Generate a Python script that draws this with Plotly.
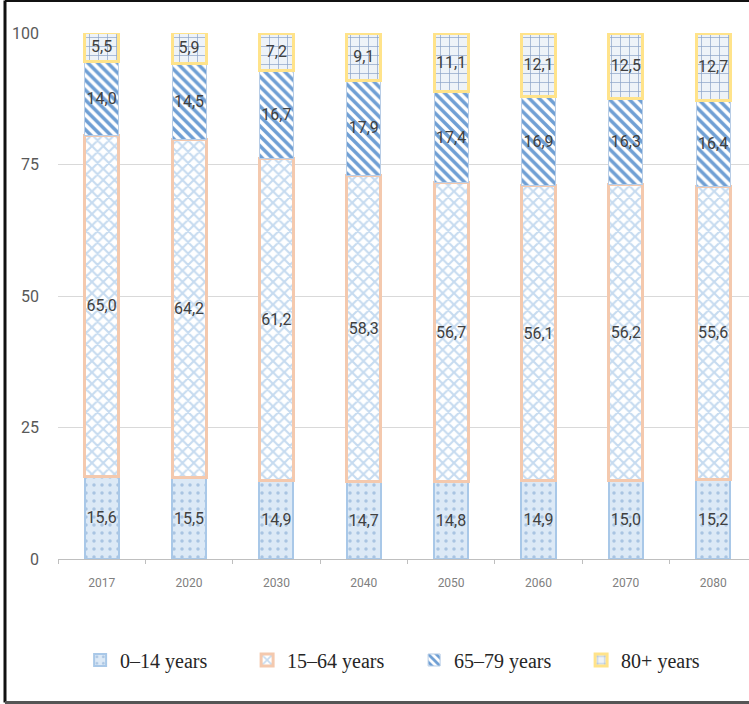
import plotly.graph_objects as go

# Population structure by age group, per cent of total
years = ["2017", "2020", "2030", "2040", "2050", "2060", "2070", "2080"]
age_0_14 = [15.6, 15.5, 14.9, 14.7, 14.8, 14.9, 15.0, 15.2]
age_15_64 = [65.0, 64.2, 61.2, 58.3, 56.7, 56.1, 56.2, 55.6]
age_65_79 = [14.0, 14.5, 16.7, 17.9, 17.4, 16.9, 16.3, 16.4]
age_80_plus = [5.5, 5.9, 7.2, 9.1, 11.1, 12.1, 12.5, 12.7]
series_names = ["0–14 years", "15–64 years", "65–79 years", "80+ years"]
y_ticks = [0, 25, 50, 75, 100]

SANS = "Roboto, Liberation Sans, sans-serif"


def comma(v):
    return f"{v:.1f}".replace(".", ",")


styles = [
    dict(pattern=dict(shape=".", bgcolor="#dce9f6", fgcolor="#a9c4e2", size=8, solidity=0.15, fillmode="replace"),
         line=dict(color="#a9c8e8", width=2)),
    dict(pattern=dict(shape="x", bgcolor="#ffffff", fgcolor="#c6dbf0", size=8, solidity=0.45, fillmode="replace"),
         line=dict(color="#f4c9ae", width=3)),
    dict(pattern=dict(shape="\\", bgcolor="#ffffff", fgcolor="#6f9fd4", size=7, solidity=0.5, fillmode="replace"),
         line=dict(color="#b8cde6", width=1)),
    dict(pattern=dict(shape="+", bgcolor="#eef3f8", fgcolor="#8ba3c7", size=9, solidity=0.15, fillmode="replace"),
         line=dict(color="#ffe38a", width=3)),
]

fig = go.Figure()
for name, vals, st in zip(series_names, [age_0_14, age_15_64, age_65_79, age_80_plus], styles):
    fig.add_trace(go.Bar(
        x=years, y=vals, name=name,
        marker=dict(color=st["pattern"]["bgcolor"], pattern=st["pattern"], line=st["line"]),
        text=[comma(v) for v in vals],
        textposition="inside", insidetextanchor="middle", textangle=0, constraintext="none",
        textfont=dict(family=SANS, size=16, color="#404040"),
        hoverinfo="skip",
    ))

# Outer frame of the figure (left, top, bottom edges)
frame = [
    dict(x0=-0.0767, x1=-0.0767, y0=-0.2728, y1=1.062, color="#111111", width=3),
    dict(x0=-0.0767, x1=1.0, y0=1.062, y1=1.062, color="#111111", width=3),
    dict(x0=-0.0767, x1=1.0, y0=-0.2728, y1=-0.2728, color="#555555", width=3),
]
shapes = [dict(type="line", xref="paper", yref="paper", x0=f["x0"], x1=f["x1"], y0=f["y0"], y1=f["y1"],
               line=dict(color=f["color"], width=f["width"])) for f in frame]

fig.update_layout(
    barmode="stack",
    bargap=0.61,
    width=749, height=704,
    margin=dict(l=58, r=0, t=33, b=145),
    paper_bgcolor="white", plot_bgcolor="white",
    showlegend=True,
    legend=dict(orientation="h", x=0.032, xanchor="left", y=-0.192, yanchor="middle",
                font=dict(family="Liberation Serif, Times New Roman, serif", size=20, color="#262626"),
                traceorder="normal", itemwidth=30, entrywidth=122, entrywidthmode="pixels"),
    shapes=shapes,
)
fig.update_xaxes(
    range=[-0.5, 7.41], showgrid=False,
    showline=True, linecolor="#bfbfbf", linewidth=1,
    ticks="outside", tickson="boundaries", ticklen=4, tickcolor="#bfbfbf",
    tickfont=dict(family=SANS, size=12, color="#808080"), ticklabelstandoff=13,
)
fig.update_yaxes(
    range=[0, 100], tickvals=y_ticks, showgrid=True, gridcolor="#d9d9d9", gridwidth=1,
    zeroline=False, showline=False,
    tickfont=dict(family=SANS, size=16, color="#595959"), ticklabelstandoff=18,
)

fig.write_html("out.html")
